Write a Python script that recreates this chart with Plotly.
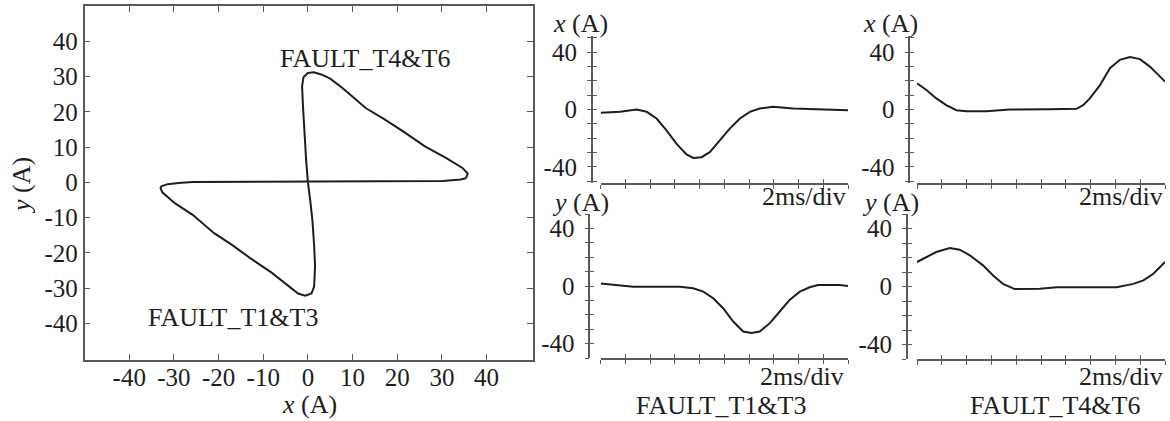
import plotly.graph_objects as go

W, H = 1170, 421

# ---------------- data ----------------
# Lissajous trajectory (left panel), x (A) and y (A)
liss_x = [35.4, 34.2, 30.2, 19.0, 7.0, 0.0, -13.0, -25.8, -29.0, -31.4, -32.8, -33.0,
          -32.6, -29.8, -25.8, -21.0, -17.0, -13.0, -8.2, -4.2, -2.2, -0.6, 0.8, 1.4,
          1.6, 1.4, 1.0, 0.5, 0.0, -0.4, -0.8, -1.1, -1.3, -1.0, 0.0, 1.3, 3.0, 5.0,
          7.8, 13.0, 17.0, 21.4, 26.2, 31.0, 34.6, 35.8, 35.4]
liss_y = [1.2, 0.8, 0.4, 0.3, 0.2, 0.2, 0.1, 0.1, -0.2, -0.5, -1.1, -1.6,
          -2.8, -5.9, -9.2, -14.4, -17.7, -21.4, -25.5, -29.5, -31.5, -32.1, -31.5, -29.5,
          -23.8, -18.1, -10.6, -4.9, 0.0, 6.4, 14.0, 21.5, 27.2, 29.8, 31.0, 31.2, 30.6, 29.4,
          26.7, 21.0, 18.0, 14.4, 10.2, 6.9, 4.1, 2.5, 1.2]

# time-domain waveforms (time in divisions of 2 ms)
t13_x = [0, 0.78, 1.45, 1.86, 2.26, 2.66, 3.07, 3.47, 3.74, 4.08, 4.41, 4.82, 5.22,
         5.63, 6.03, 6.43, 6.97, 7.78, 8.72, 10]
x13 = [-2.3, -1.6, 0, -1.6, -6.3, -14.5, -23.9, -31.3, -33.7, -33.2, -29.7, -21.5, -13.3,
       -6.3, -1.6, 0.7, 1.9, 0.7, 0.2, -0.5]

t13_y = [0, 0.78, 1.32, 3.2, 3.74, 4.15, 4.55, 4.95, 5.36, 5.76, 6.1, 6.43, 6.84,
         7.24, 7.64, 8.05, 8.45, 8.79, 9.66, 10]
y13 = [1.8, 0.7, -0.5, -0.5, -1.6, -3.9, -8.5, -15.4, -24.7, -31.6, -32.7, -31.6, -25.8,
       -17.7, -9.7, -3.9, -0.9, 0.7, 0.7, 0]

t46_x = [0, 0.38, 0.78, 1.18, 1.59, 1.99, 2.8, 3.74, 5.36, 6.43, 6.7, 6.97, 7.38,
         7.78, 8.18, 8.59, 8.99, 9.39, 9.73, 10]
x46 = [18.2, 13.6, 7.7, 3.0, -0.5, -1.2, -1.2, 0, 0.2, 0.5, 3.0, 7.7, 17.0,
       28.8, 34.6, 36.5, 35.1, 29.9, 24.1, 19.4]

t46_y = [0, 0.38, 0.78, 1.32, 1.72, 2.13, 2.66, 3.07, 3.47, 3.94, 4.95, 5.63, 8.05,
         8.72, 9.13, 9.53, 10]
y46 = [16.9, 20.3, 23.8, 26.6, 25.4, 21.5, 14.6, 7.6, 1.8, -1.8, -1.6, -0.5, -0.5,
       1.8, 4.2, 8.8, 16.9]

# ticks
xy_ticks = [-40, -30, -20, -10, 0, 10, 20, 30, 40]
xy_tick_labels = ["-40", "-30", "-20", "-10", "0", "10", "20", "30", "40"]
wave_yticks = [-50, -40, -30, -20, -10, 0, 10, 20, 30, 40, 50]
wave_ytick_labels = ["", "-40", "", "", "", "0", "", "", "", "40", ""]
wave_xticks = list(range(0, 11))

# ---------------- styling ----------------
FONT = "Liberation Serif, Times New Roman, Times, serif"
INK = "#1e1e1e"
AXC = "#5a5a5a"

def px2x(p):
    return p / W

def py2y(p):
    return 1 - p / H

fig = go.Figure()

# left panel
fig.add_trace(go.Scatter(x=liss_x, y=liss_y, mode="lines",
                         line=dict(color=INK, width=2), showlegend=False,
                         xaxis="x", yaxis="y"))

common_left = dict(showline=True, linecolor=AXC, linewidth=1.5, mirror="ticks",
                   ticks="inside", ticklen=6, tickcolor=AXC, tickwidth=1.2,
                   showgrid=False, zeroline=False,
                   tickfont=dict(family=FONT, size=25, color=INK),
                   tickvals=xy_ticks, ticktext=xy_tick_labels)

layout = dict(
    width=W, height=H, margin=dict(l=0, r=0, t=0, b=0),
    paper_bgcolor="white", plot_bgcolor="white", showlegend=False,
    xaxis=dict(domain=[px2x(84.6), px2x(533)], range=[-50, 50.4], anchor="y",
               ticklabelstandoff=-5, **common_left),
    yaxis=dict(domain=[py2y(359.5), py2y(6)], range=[-50.2, 50], anchor="x",
               **common_left),
)

panels = [
    (2, 6, t13_x, x13, 600.7, 848, 591.7, 36, 183, [-51.2, 51.2]),
    (3, 7, t13_y, y13, 600.7, 848, 589.3, 214, 358, [-50, 50]),
    (4, 8, t46_x, x46, 917, 1165, 909.3, 36, 183, [-51.2, 51.2]),
    (5, 9, t46_y, y46, 917, 1165, 906.7, 214, 359, [-50, 50]),
]

for (k, ko, tt, vv, x0, x1, yax, ytop, ybot, yr) in panels:
    xd = [px2x(x0), px2x(x1)]
    yd = [py2y(ybot), py2y(ytop)]
    ypos = px2x(yax)
    fig.add_trace(go.Scatter(x=tt, y=vv, mode="lines",
                             line=dict(color=INK, width=2), showlegend=False,
                             xaxis=f"x{k}", yaxis=f"y{k}"))
    fig.add_trace(go.Scatter(x=[], y=[], mode="lines", showlegend=False,
                             xaxis=f"x{ko}", yaxis=f"y{ko}"))
    base_x = dict(domain=xd, range=[0, 10], tickvals=wave_xticks,
                  showticklabels=False, showgrid=False, zeroline=False,
                  tickcolor=AXC, tickwidth=1.2, ticklen=4)
    base_y = dict(domain=yd, range=yr, tickvals=wave_yticks,
                  ticktext=wave_ytick_labels, showgrid=False, zeroline=False,
                  tickcolor=AXC, tickwidth=1.2, ticklen=4, anchor="free",
                  position=ypos)
    layout[f"xaxis{k}"] = dict(anchor=f"y{k}", showline=True, linecolor=AXC,
                               linewidth=1.5, ticks="outside", **base_x)
    layout[f"yaxis{k}"] = dict(showline=True, linecolor=AXC, linewidth=1.5,
                               ticks="outside", ticklabelstandoff=5,
                               tickfont=dict(family=FONT, size=25, color=INK),
                               **base_y)
    layout[f"xaxis{ko}"] = dict(anchor=f"y{k}", overlaying=f"x{k}", showline=False,
                                ticks="inside", **base_x)
    layout[f"yaxis{ko}"] = dict(overlaying=f"y{k}", showline=False, ticks="inside",
                                showticklabels=False, **base_y)

fig.update_layout(**layout)

def note(text, x, y, xanchor="center", size=26, angle=0):
    fig.add_annotation(text=text, x=px2x(x), y=py2y(y), xref="paper", yref="paper",
                       xanchor=xanchor, yanchor="middle", showarrow=False,
                       textangle=angle,
                       font=dict(family=FONT, size=size, color=INK))

# left panel labels
fig.add_annotation(text="FAULT_T4&T6", x=12.8, y=35.2, xref="x", yref="y",
                   showarrow=False, xanchor="center", yanchor="middle",
                   font=dict(family=FONT, size=26, color=INK))
fig.add_annotation(text="FAULT_T1&T3", x=-16.7, y=-38.3, xref="x", yref="y",
                   showarrow=False, xanchor="center", yanchor="middle",
                   font=dict(family=FONT, size=26, color=INK))
note("<i>x</i> (A)", 309, 404)
note("<i>y</i> (A)", 22, 186, angle=-90)

# waveform panel labels
note("<i>x</i> (A)", 580, 24)
note("2ms/div", 848, 196, xanchor="right")
note("<i>y</i> (A)", 580, 202)
note("2ms/div", 846, 376, xanchor="right")
note("FAULT_T1&T3", 721, 405)

note("<i>x</i> (A)", 890, 24)
note("2ms/div", 1165, 196, xanchor="right")
note("<i>y</i> (A)", 890, 202)
note("2ms/div", 1165, 376, xanchor="right")
note("FAULT_T4&T6", 1055, 405)

fig.write_html("out.html", config={"displayModeBar": False},
               post_script="document.body.style.margin='0px';")
